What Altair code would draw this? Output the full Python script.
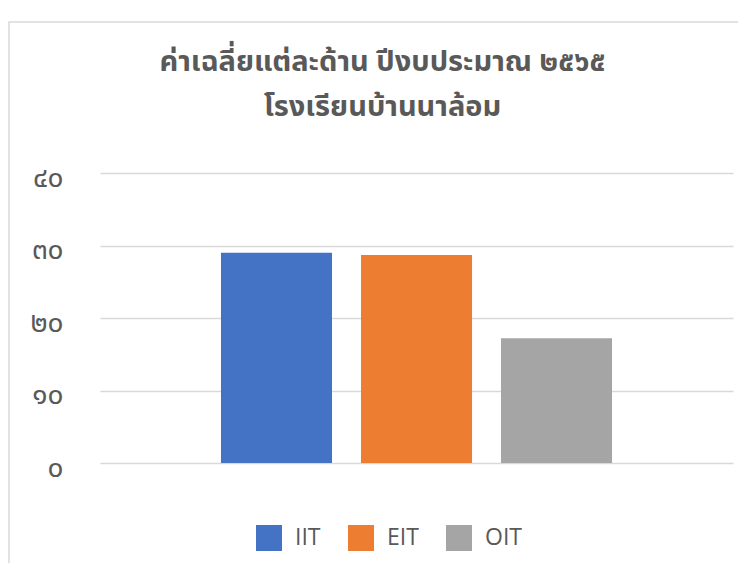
import altair as alt
import pandas as pd

# data
series = ["IIT", "EIT", "OIT"]
values = [29.0, 28.7, 17.2]
colors = ["#4472C4", "#ED7D31", "#A5A5A5"]
y_ticks = [0, 10, 20, 30, 40]
y_tick_labels = ["๐", "๑๐", "๒๐", "๓๐", "๔๐"]
title_lines = ["ค่าเฉลี่ยแต่ละด้าน ปีงบประมาณ ๒๕๖๕", "โรงเรียนบ้านนาล้อม"]

df = pd.DataFrame({"series": series, "value": values})

label_expr = "''"
for v, lab in reversed(list(zip(y_ticks, y_tick_labels))):
    label_expr = f"datum.value == {v} ? '{lab}' : ({label_expr})"

FONT = "Noto Sans Thai, Leelawadee UI, Noto Sans, sans-serif"
GREY = "#595959"

bars = alt.Chart(df).mark_bar().encode(
    x=alt.X("series:N", sort=series, axis=None,
            scale=alt.Scale(paddingInner=0.207, paddingOuter=0.864)),
    y=alt.Y("value:Q",
            scale=alt.Scale(domain=[0, 40]),
            axis=alt.Axis(values=y_ticks, labelExpr=label_expr, title=None,
                          domain=False, ticks=False, grid=True,
                          gridColor="#d9d9d9", gridWidth=1.5,
                          labelFont=FONT, labelFontSize=28, labelColor=GREY,
                          labelPadding=37, labelOffset=5)),
    color=alt.Color("series:N", sort=series,
                    scale=alt.Scale(domain=series, range=colors),
                    legend=alt.Legend(title=None, orient="none", direction="horizontal",
                                      legendX=156, legendY=352,
                                      symbolType="square", symbolSize=676,
                                      symbolStrokeWidth=0, symbolOpacity=1,
                                      labelFont="Open Sans", labelFontSize=23, labelColor=GREY,
                                      labelOffset=13, columnPadding=27, padding=0)),
)

border_df = pd.DataFrame({"k": [0]})
border = alt.Chart(border_df).mark_rect(fill=None, stroke="#d9d9d9", strokeWidth=1.5).encode(
    x=alt.value(-91), x2=alt.value(800), y=alt.value(-151), y2=alt.value(600)
)

chart = alt.layer(border, bars).properties(
    width=633, height=290,
    autosize=alt.AutoSizeParams(type="none"),
    padding={"left": 92, "top": 165, "right": 5, "bottom": 100},
    title=alt.TitleParams(text=title_lines, anchor="middle", dx=-34, offset=0, dy=101,
                          font=FONT, fontSize=29, fontWeight="bold",
                          color=GREY, lineHeight=45),
).configure_view(stroke=None)

chart.save("out.html", embed_options={"renderer": "svg", "actions": False})
